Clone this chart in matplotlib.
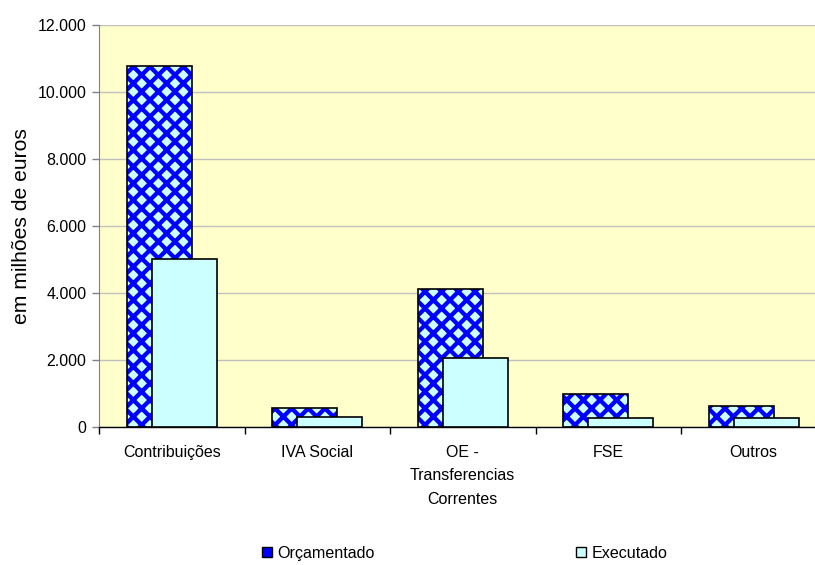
import matplotlib
matplotlib.use("Agg")
import matplotlib.pyplot as plt
import numpy as np
from matplotlib.patches import Patch
from matplotlib.ticker import FuncFormatter

categories = ["Contribuições", "IVA Social", "OE -\nTransferencias\nCorrentes", "FSE", "Outros"]
orcamentado = [10780, 560, 4120, 985, 625]
executado = [5010, 305, 2060, 270, 260]
series_names = ["Orçamentado", "Executado"]

plt.rcParams["font.family"] = ["Liberation Sans", "DejaVu Sans"]
plt.rcParams["hatch.linewidth"] = 3.1

blue = "#0000FF"
cyan = "#CCFFFF"

fig = plt.figure(figsize=(8.15, 5.65), dpi=100)
ax = fig.add_axes([99 / 815, 1 - 427 / 565, 727.5 / 815, 402 / 565])
ax.set_facecolor("#FFFFCC")

x = np.arange(len(categories))
width = 0.445
off = 0.086

# hatched fill first, then a plain black outline on top of it
ax.bar(x - off, orcamentado, width, facecolor=cyan, edgecolor=blue,
       linewidth=0, hatch="xx", zorder=2)
ax.bar(x - off, orcamentado, width, fill=False, edgecolor="black",
       linewidth=1.2, zorder=3)
ax.bar(x + off, executado, width, facecolor=cyan, edgecolor="black",
       linewidth=1.2, zorder=4)

ax.set_xlim(-0.5, len(categories) - 0.5)
ax.set_ylim(0, 12000)
ax.set_yticks(np.arange(0, 12001, 2000))
ax.yaxis.set_major_formatter(FuncFormatter(lambda v, p: f"{int(v):,}".replace(",", ".")))
ax.yaxis.grid(True, color="#C0C0C0", linewidth=1.0, zorder=0)
ax.set_axisbelow(True)

ax.set_xticks(np.arange(-0.5, len(categories) + 0.5, 1.0))
ax.set_xticklabels([])
ax.set_xticks(x, minor=True)
ax.set_xticklabels(categories, minor=True, fontsize=11.5, linespacing=1.7)
ax.tick_params(axis="x", which="minor", length=0, pad=13)
ax.tick_params(axis="x", which="major", length=5, width=1, color="black", direction="out")
ax.tick_params(axis="y", length=5, width=1, color="#808080", labelsize=11.5, pad=4)

for side in ["top", "right"]:
    ax.spines[side].set_visible(False)
ax.spines["left"].set_color("#808080")
ax.spines["bottom"].set_color("black")
ax.spines["bottom"].set_linewidth(1.0)

ax.set_ylabel("em milhões de euros", fontsize=15.2, labelpad=5)

handles = [
    Patch(facecolor=blue, edgecolor="black", linewidth=1.0),
    Patch(facecolor=cyan, edgecolor="black", linewidth=1.0),
]
fig.legend(handles, series_names, loc="center", bbox_to_anchor=(0.57, 0.021),
           ncol=2, frameon=False, fontsize=11.6, handlelength=0.65, handleheight=0.65,
           handletextpad=0.3, columnspacing=12.5)

fig.savefig("out.png", dpi=100)
